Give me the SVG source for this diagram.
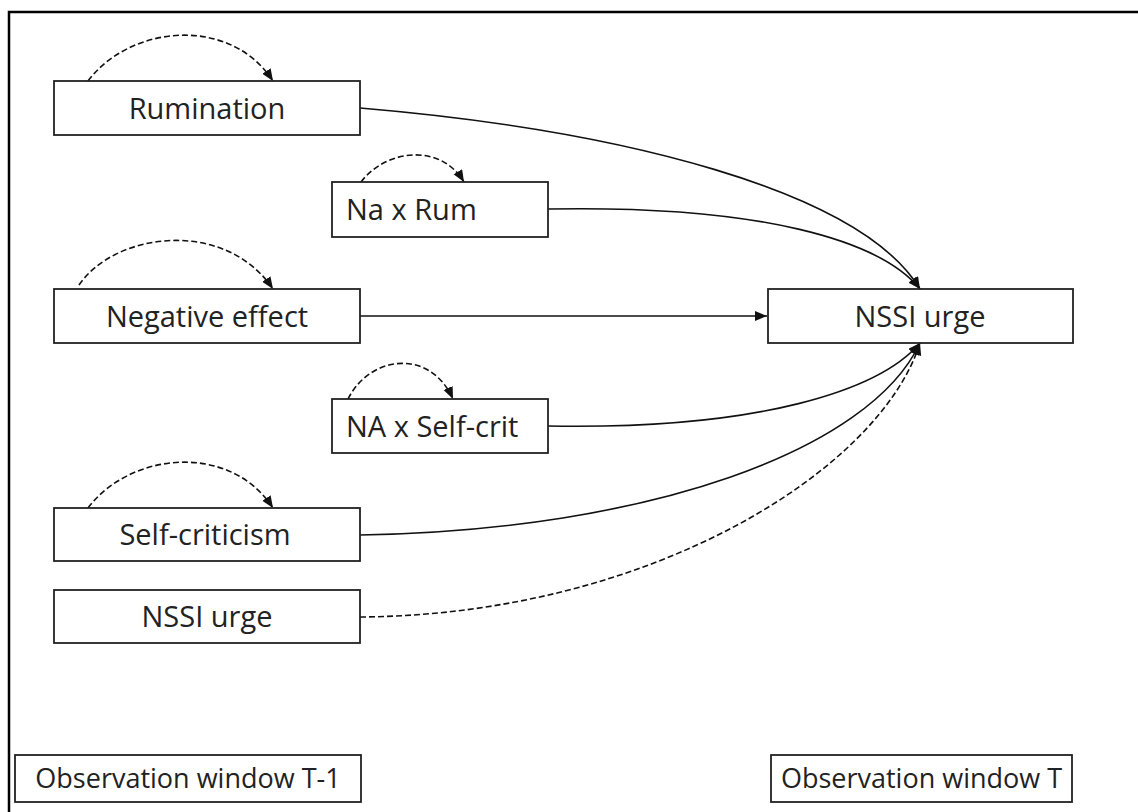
<svg xmlns="http://www.w3.org/2000/svg" width="1138" height="812" viewBox="0 0 1138 812">
<style>
.box{fill:#fff;stroke:#222;stroke-width:1.8}
.lbl{font-family:"Open Sans","Liberation Sans",sans-serif;font-size:29px;fill:#222}
.sm{font-size:27px}
.c{text-anchor:middle}
.edge{fill:none;stroke:#111;stroke-width:1.6}
.dash{stroke-dasharray:6 3}
.frame{fill:none;stroke:#000;stroke-width:2.5}
</style>
<defs>
<marker id="ah" markerUnits="userSpaceOnUse" markerWidth="13" markerHeight="11" refX="12" refY="5" orient="auto">
<path d="M0,0 L12,5 L0,10 z" fill="#111"/>
</marker>
</defs>
<rect width="1138" height="812" fill="#fff"/>
<path class="frame" d="M9,812 L9,12 L1138,12"/>

<g id="connectors">
<path class="edge" d="M360,108 C620,130 860,190 920,289" marker-end="url(#ah)"/>
<path class="edge" d="M548,209 C760,205 880,240 920,289" marker-end="url(#ah)"/>
<path class="edge" d="M360,316 L767,316" marker-end="url(#ah)"/>
<path class="edge" d="M548,426 C760,430 880,390 920,343" marker-end="url(#ah)"/>
<path class="edge" d="M360,535 C650,530 870,450 920,343" marker-end="url(#ah)"/>
<path class="edge dash" d="M360,617 C650,615 880,470 920,343" marker-end="url(#ah)"/>
<path class="edge dash" d="M88,81 C130,25 230,15 273,81" marker-end="url(#ah)"/>
<path class="edge dash" d="M361,182 C385,150 440,142 464,182" marker-end="url(#ah)"/>
<path class="edge dash" d="M79,285 C115,232 225,218 273,289" marker-end="url(#ah)"/>
<path class="edge dash" d="M348,399 C370,355 430,348 453,399" marker-end="url(#ah)"/>
<path class="edge dash" d="M88,508 C130,452 230,442 273,508" marker-end="url(#ah)"/>
</g>

<g id="rumination">
<rect class="box" x="54" y="81" width="306" height="54"/>
<text class="lbl c" x="207" y="118.5">Rumination</text>
</g>
<g id="na-x-rum">
<rect class="box" x="332" y="182" width="216" height="55"/>
<text class="lbl" x="346" y="220">Na x Rum</text>
</g>
<g id="negative-effect">
<rect class="box" x="54" y="289" width="306" height="54"/>
<text class="lbl c" x="207" y="326.5">Negative effect</text>
</g>
<g id="na-x-selfcrit">
<rect class="box" x="332" y="399" width="216" height="54"/>
<text class="lbl" x="346" y="436.5">NA x Self-crit</text>
</g>
<g id="self-criticism">
<rect class="box" x="54" y="508" width="306" height="53"/>
<text class="lbl c" x="205" y="545">Self-criticism</text>
</g>
<g id="nssi-urge-t1">
<rect class="box" x="54" y="590" width="306" height="53"/>
<text class="lbl c" x="207" y="627">NSSI urge</text>
</g>
<g id="nssi-urge-t">
<rect class="box" x="768" y="289" width="305" height="54"/>
<text class="lbl c" x="920" y="326.5">NSSI urge</text>
</g>
<g id="obs-t1">
<rect class="box" x="15" y="755" width="346" height="47"/>
<text class="lbl sm c" x="188" y="788">Observation window T-1</text>
</g>
<g id="obs-t">
<rect class="box" x="771" y="755" width="301" height="47"/>
<text class="lbl sm c" x="921.5" y="788">Observation window T</text>
</g>
</svg>
